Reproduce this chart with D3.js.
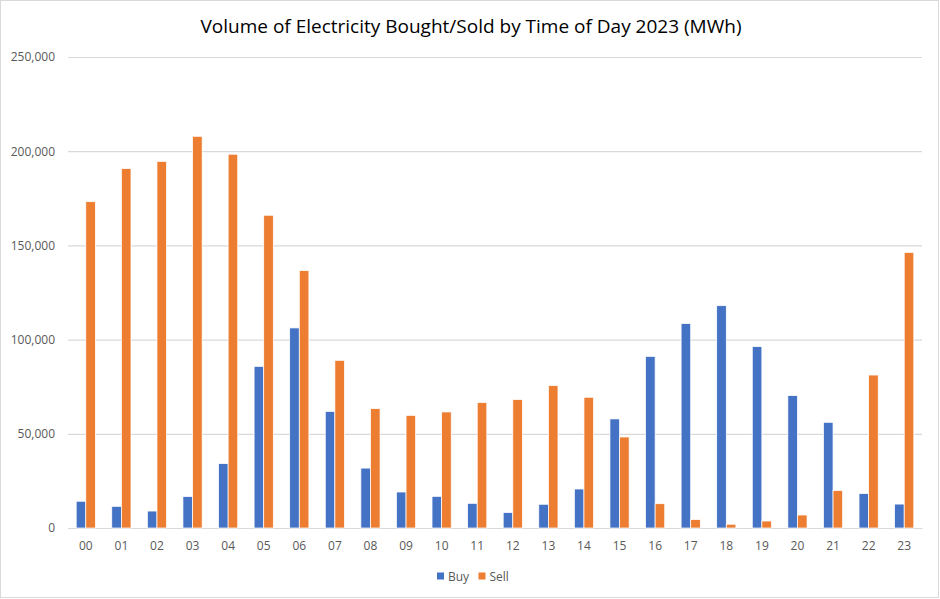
<!DOCTYPE html>
<html>
<head>
<meta charset="utf-8">
<script src="https://cdn.jsdelivr.net/npm/d3@7"></script>
<style>
  body { margin: 0; background: #fff; }
  svg text { font-family: "Open Sans", "Noto Sans", sans-serif; }
</style>
</head>
<body>
<div id="chart-area"></div>
<script>
const hours = ["00","01","02","03","04","05","06","07","08","09","10","11",
  "12","13","14","15","16","17","18","19","20","21","22","23"];
const buy = [14200, 11500, 9000, 16700, 34200, 85800, 106200, 61900, 31800, 19100, 16800, 13100,
  8200, 12600, 20700, 57900, 91100, 108500, 118000, 96300, 70300, 56100, 18300, 12700];
const sell = [173200, 190800, 194600, 207900, 198400, 166000, 136600, 89000, 63400, 59800, 61600, 66600,
  68200, 75600, 69400, 48300, 12900, 4500, 2000, 3700, 6900, 19900, 81200, 146300];
const yTicks = [0, 50000, 100000, 150000, 200000, 250000];
const seriesNames = ["Buy", "Sell"];
const colors = { Buy: "#4472C4", Sell: "#ED7D31" };

const chartSize = { width: 940, height: 599 };
const margin = { left: 68, right: 18, top: 57, bottom: 71 };
const width = chartSize.width - margin.left - margin.right;
const height = chartSize.height - margin.top - margin.bottom;

const rows = hours.map((h, i) => ({ hour: h, Buy: buy[i], Sell: sell[i] }));

const svg = d3.select("#chart-area")
  .append("svg")
  .attr("width", chartSize.width)
  .attr("height", chartSize.height);

svg.append("rect")
  .attr("x", 0.5).attr("y", 0.5)
  .attr("width", chartSize.width - 2).attr("height", chartSize.height - 2)
  .attr("fill", "#fff")
  .attr("stroke", "#d9d9d9");

svg.append("text")
  .attr("x", chartSize.width / 2 + 1)
  .attr("y", 33)
  .attr("text-anchor", "middle")
  .attr("font-size", 19)
  .attr("fill", "#000")
  .text("Volume of Electricity Bought/Sold by Time of Day 2023 (MWh)");

const g = svg.append("g")
  .attr("transform", `translate(${margin.left},${margin.top})`);

const y = d3.scaleLinear()
  .domain([0, 250000])
  .range([height, 0]);

const x = d3.scaleBand()
  .domain(hours)
  .range([0, width])
  .paddingInner(0.46)
  .paddingOuter(0.23);

const xSub = d3.scaleBand()
  .domain(seriesNames)
  .range([0, x.bandwidth()]);

// gridlines
const yAxis = d3.axisLeft(y)
  .tickValues(yTicks)
  .tickSize(-width)
  .tickPadding(13)
  .tickFormat(d3.format(","));

g.append("g")
  .attr("class", "y axis")
  .call(yAxis)
  .call(a => a.select(".domain").remove())
  .call(a => a.selectAll("line").attr("stroke", "#d9d9d9").attr("stroke-width", 1.2))
  .call(a => a.selectAll("text").attr("fill", "#595959").attr("font-size", 12));

const xAxis = d3.axisBottom(x).tickSize(0).tickPadding(13);

g.append("g")
  .attr("class", "x axis")
  .attr("transform", `translate(0,${height})`)
  .call(xAxis)
  .call(a => a.select(".domain").attr("stroke", "#d9d9d9").attr("stroke-width", 1.2))
  .call(a => a.selectAll("text").attr("fill", "#595959").attr("font-size", 12));

const groups = g.selectAll(".hour")
  .data(rows)
  .enter().append("g")
  .attr("class", "hour")
  .attr("transform", d => `translate(${x(d.hour)},0)`);

// white outline like the spreadsheet bars
groups.selectAll("rect")
  .data(d => seriesNames.map(k => ({ key: k, value: d[k] })))
  .enter().append("rect")
  .attr("x", d => xSub(d.key))
  .attr("width", xSub.bandwidth())
  .attr("y", d => y(d.value))
  .attr("height", d => y(0) - y(d.value))
  .attr("fill", d => colors[d.key])
  .attr("stroke", "#fff")
  .attr("stroke-width", 0.75);

// legend
const legend = svg.append("g")
  .attr("transform", "translate(437,576)");
const items = legend.selectAll("g")
  .data(seriesNames)
  .enter().append("g")
  .attr("transform", (d, i) => `translate(${i * 41.5},0)`);
items.append("rect")
  .attr("x", 0).attr("y", -3.5)
  .attr("width", 7).attr("height", 7)
  .attr("fill", d => colors[d]);
items.append("text")
  .attr("x", 11).attr("y", 4.5)
  .attr("font-size", 12)
  .attr("fill", "#595959")
  .text(d => d);
</script>
</body>
</html>
